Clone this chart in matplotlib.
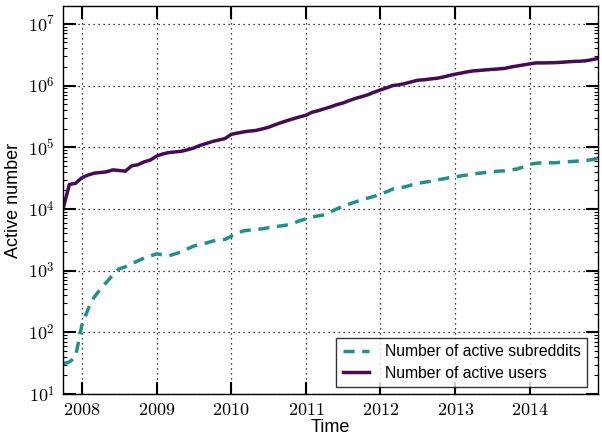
import numpy as np
import pandas as pd
import matplotlib
matplotlib.use("Agg")
import matplotlib.pyplot as plt
import matplotlib.dates as mdates
from matplotlib.ticker import FuncFormatter, LogLocator, NullFormatter

plt.rcParams['font.family'] = ['Liberation Sans', 'DejaVu Sans']
plt.rcParams['mathtext.fontset'] = 'cm'

months = pd.date_range("2007-10-01", "2014-12-01", freq="MS")

active_users = [
    1.0e4, 2.5e4, 2.6e4, 3.2e4, 3.55e4, 3.8e4, 3.9e4, 4.0e4, 4.3e4, 4.2e4,
    4.1e4, 5.0e4, 5.2e4, 5.8e4, 6.2e4, 7.2e4, 7.8e4, 8.2e4, 8.4e4, 8.6e4,
    9.1e4, 9.7e4, 1.07e5, 1.15e5, 1.24e5, 1.31e5, 1.38e5, 1.62e5, 1.70e5, 1.77e5,
    1.83e5, 1.87e5, 1.98e5, 2.1e5, 2.3e5, 2.5e5, 2.7e5, 2.9e5, 3.1e5, 3.3e5,
    3.7e5, 3.9e5, 4.2e5, 4.5e5, 4.9e5, 5.2e5, 5.7e5, 6.2e5, 6.6e5, 7.1e5,
    7.8e5, 8.5e5, 9.2e5, 1.0e6, 1.03e6, 1.08e6, 1.15e6, 1.22e6, 1.24e6, 1.28e6,
    1.31e6, 1.37e6, 1.45e6, 1.53e6, 1.6e6, 1.67e6, 1.73e6, 1.76e6, 1.8e6, 1.83e6,
    1.86e6, 1.9e6, 2.0e6, 2.08e6, 2.16e6, 2.25e6, 2.33e6, 2.33e6, 2.34e6, 2.35e6,
    2.38e6, 2.42e6, 2.46e6, 2.48e6, 2.52e6, 2.63e6, 2.75e6,
]

active_subreddits = [
    31, 33, 40, 130, 240, 370, 500, 650, 850, 1070,
    1150, 1290, 1440, 1600, 1730, 1870, 1800, 1730, 1870, 2000,
    2250, 2500, 2700, 2800, 3000, 3150, 3200, 3600, 4050, 4400,
    4550, 4650, 4750, 4950, 5150, 5300, 5500, 5900, 6400, 6900,
    7400, 7700, 8000, 8900, 1.0e4, 1.1e4, 1.2e4, 1.3e4, 1.4e4, 1.5e4,
    1.6e4, 1.75e4, 1.9e4, 2.1e4, 2.2e4, 2.28e4, 2.45e4, 2.6e4, 2.7e4, 2.8e4,
    2.95e4, 3.06e4, 3.2e4, 3.3e4, 3.45e4, 3.55e4, 3.7e4, 3.8e4, 3.9e4, 4.0e4,
    4.1e4, 4.15e4, 4.3e4, 4.45e4, 4.8e4, 5.3e4, 5.5e4, 5.6e4, 5.6e4, 5.6e4,
    5.7e4, 5.8e4, 5.9e4, 6.0e4, 6.1e4, 6.3e4, 6.6e4,
]

year_ticks = pd.to_datetime([f"{y}-01-01" for y in range(2008, 2015)])

fig = plt.figure(figsize=(6.02, 4.41), dpi=100)
ax = fig.add_axes([0.1047, 0.1066, 0.8887, 0.8798])

ax.plot(months, active_subreddits, color="#21908d", lw=2.5, ls=(0, (3.2, 2.2)),
        label="Number of active subreddits")
ax.plot(months, active_users, color="#470b56", lw=2.5,
        label="Number of active users")

ax.set_yscale("log")
ax.set_ylim(10, 1.95e7)
ax.set_xlim(months[0], months[-1])

ax.set_xticks(year_ticks)
ax.xaxis.set_major_formatter(FuncFormatter(lambda v, p: r"$%d$" % mdates.num2date(v).year))
ax.yaxis.set_major_locator(LogLocator(base=10, numticks=20))
ax.yaxis.set_minor_locator(LogLocator(base=10, subs=np.arange(2, 10), numticks=20))
ax.yaxis.set_minor_formatter(NullFormatter())
ax.yaxis.set_major_formatter(FuncFormatter(lambda v, p: r"$10^{%d}$" % round(np.log10(v))))

ax.tick_params(which="major", direction="in", length=9, width=1.5, top=True, right=True,
               labelsize=13, pad=6, color="black")
ax.tick_params(which="minor", direction="in", length=3, width=0.8, top=True, right=True)
for s in ax.spines.values():
    s.set_linewidth(1.0)

ax.grid(True, which="major", color="black", ls=(0, (1, 3)), lw=0.9)

ax.set_xlabel("Time", fontsize=13, labelpad=0)
ax.set_ylabel("Active number", fontsize=13, labelpad=4)

leg = ax.legend(loc="lower right", fontsize=11.3, frameon=True, fancybox=False,
                handlelength=1.7, handletextpad=1.0, borderaxespad=0.45,
                borderpad=0.4, labelspacing=0.4, bbox_to_anchor=(0.993, 0.0))
leg.get_frame().set_edgecolor("black")
leg.get_frame().set_linewidth(1.0)

fig.savefig("out.png", dpi=100)
